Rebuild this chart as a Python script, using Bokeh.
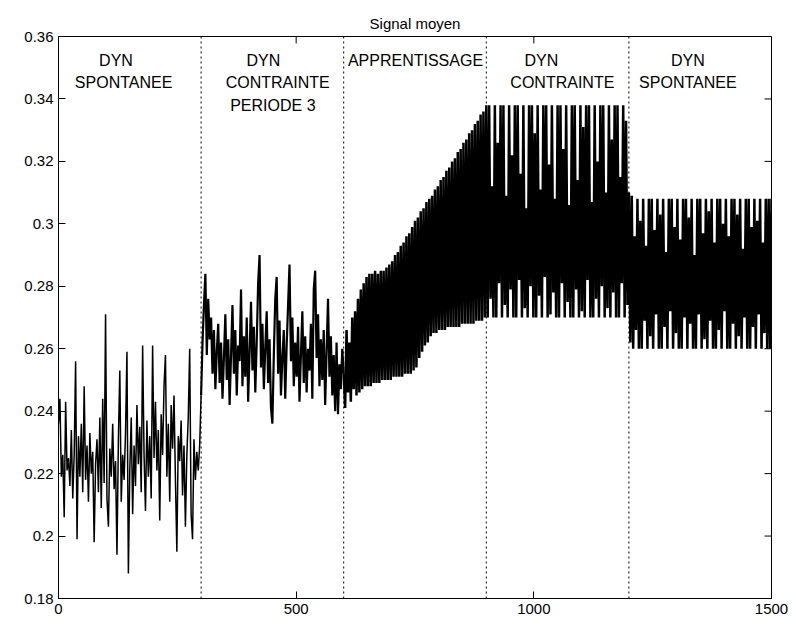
import numpy as np
from bokeh.plotting import figure
from bokeh.models import Range1d, LinearAxis, FixedTicker, Span, ColumnDataSource
from bokeh.core.properties import value
from bokeh.embed import file_html
from bokeh.resources import INLINE

# ---------------- data ----------------
x_step = 3  # sampling step of the typed series (iterations)

# 0 - 297 : spontaneous dynamics
seg1 = [
    0.236, 0.244, 0.219, 0.226, 0.206, 0.243, 0.221, 0.225, 0.216, 0.234,
    0.212, 0.226, 0.256, 0.199, 0.232, 0.219, 0.236, 0.214, 0.248, 0.218,
    0.229, 0.211, 0.233, 0.220, 0.227, 0.198, 0.223, 0.231, 0.214, 0.238,
    0.209, 0.244, 0.217, 0.271, 0.212, 0.203, 0.228, 0.219, 0.236, 0.215,
    0.224, 0.194, 0.231, 0.253, 0.211, 0.226, 0.218, 0.233, 0.259, 0.188,
    0.221, 0.238, 0.207, 0.229, 0.216, 0.242, 0.223, 0.235, 0.214, 0.261,
    0.226, 0.208, 0.237, 0.219, 0.232, 0.212, 0.261, 0.225, 0.243, 0.221,
    0.234, 0.205, 0.239, 0.226, 0.248, 0.258, 0.219, 0.236, 0.211, 0.242,
    0.228, 0.245, 0.218, 0.195, 0.232, 0.224, 0.237, 0.213, 0.229, 0.203,
    0.226, 0.238, 0.260, 0.207, 0.199, 0.231, 0.218, 0.227, 0.221, 0.229,
]
# 300 - 597 : constrained dynamics, period 3
seg2 = [
    0.245, 0.262, 0.274, 0.284, 0.258, 0.276, 0.263, 0.270, 0.252, 0.266,
    0.247, 0.259, 0.268, 0.249, 0.262, 0.244, 0.257, 0.271, 0.250, 0.263,
    0.242, 0.258, 0.274, 0.252, 0.266, 0.245, 0.261, 0.256, 0.279, 0.248,
    0.264, 0.251, 0.270, 0.243, 0.259, 0.275, 0.253, 0.267, 0.246, 0.262,
    0.281, 0.290, 0.254, 0.268, 0.247, 0.260, 0.272, 0.249, 0.263, 0.241,
    0.236, 0.258, 0.276, 0.283, 0.252, 0.269, 0.245, 0.257, 0.266, 0.244,
    0.261, 0.274, 0.287, 0.256, 0.270, 0.248, 0.262, 0.251, 0.267, 0.243,
    0.258, 0.272, 0.249, 0.264, 0.246, 0.260, 0.253, 0.268, 0.244, 0.279,
    0.285, 0.257, 0.271, 0.248, 0.263, 0.250, 0.266, 0.242, 0.259, 0.276,
    0.251, 0.264, 0.245, 0.258, 0.240, 0.262, 0.239, 0.255, 0.247, 0.260,
]
# 600 - 897 : learning
seg3 = [
    0.252, 0.241, 0.266, 0.246, 0.262, 0.243, 0.270, 0.247, 0.272, 0.245,
    0.276, 0.246, 0.279, 0.247, 0.281, 0.248, 0.283, 0.248, 0.284, 0.248,
    0.284, 0.249, 0.285, 0.249, 0.284, 0.249, 0.285, 0.250, 0.285, 0.250,
    0.286, 0.250, 0.287, 0.250, 0.288, 0.251, 0.290, 0.251, 0.291, 0.251,
    0.293, 0.251, 0.294, 0.252, 0.296, 0.252, 0.297, 0.252, 0.299, 0.253,
    0.301, 0.254, 0.302, 0.257, 0.304, 0.259, 0.305, 0.261, 0.307, 0.262,
    0.308, 0.264, 0.309, 0.265, 0.311, 0.265, 0.312, 0.266, 0.314, 0.266,
    0.315, 0.266, 0.317, 0.267, 0.318, 0.267, 0.320, 0.267, 0.321, 0.267,
    0.323, 0.267, 0.324, 0.268, 0.326, 0.268, 0.327, 0.268, 0.329, 0.268,
    0.330, 0.268, 0.332, 0.269, 0.333, 0.269, 0.335, 0.269, 0.336, 0.270,
]
# 900 - 1197 : constrained dynamics (peaks and troughs)
seg4_high = [
    0.338, 0.338, 0.312, 0.338, 0.326, 0.338, 0.338, 0.309, 0.338, 0.322,
    0.338, 0.338, 0.316, 0.338, 0.305, 0.338, 0.338, 0.329, 0.338, 0.311,
    0.338, 0.338, 0.319, 0.338, 0.308, 0.338, 0.338, 0.324, 0.338, 0.306,
    0.338, 0.338, 0.314, 0.338, 0.331, 0.338, 0.338, 0.307, 0.338, 0.320,
    0.338, 0.338, 0.310, 0.338, 0.327, 0.338, 0.338, 0.315, 0.338, 0.333,
]
seg4_low = [
    0.270, 0.276, 0.270, 0.270, 0.281, 0.270, 0.274, 0.270, 0.279, 0.270,
    0.270, 0.282, 0.270, 0.273, 0.270, 0.280, 0.270, 0.270, 0.277, 0.270,
    0.283, 0.270, 0.271, 0.278, 0.270, 0.270, 0.281, 0.270, 0.275, 0.270,
    0.270, 0.279, 0.270, 0.272, 0.270, 0.282, 0.270, 0.270, 0.276, 0.270,
    0.280, 0.270, 0.273, 0.270, 0.278, 0.270, 0.270, 0.281, 0.270, 0.274,
]
# 1200 - 1500 : spontaneous dynamics again (peaks and troughs)
seg5_high = [
    0.310, 0.309, 0.296, 0.308, 0.301, 0.308, 0.293, 0.308, 0.308, 0.298,
    0.308, 0.303, 0.308, 0.291, 0.308, 0.308, 0.299, 0.308, 0.295, 0.308,
    0.308, 0.302, 0.308, 0.290, 0.308, 0.308, 0.297, 0.308, 0.304, 0.308,
    0.294, 0.308, 0.308, 0.300, 0.308, 0.296, 0.308, 0.308, 0.303, 0.308,
    0.292, 0.308, 0.308, 0.299, 0.308, 0.301, 0.308, 0.294, 0.308, 0.308,
    0.308,
]
seg5_low = [
    0.262, 0.260, 0.266, 0.260, 0.260, 0.269, 0.260, 0.264, 0.260, 0.271,
    0.260, 0.260, 0.267, 0.260, 0.272, 0.260, 0.265, 0.260, 0.260, 0.270,
    0.260, 0.268, 0.260, 0.260, 0.271, 0.260, 0.263, 0.260, 0.269, 0.260,
    0.260, 0.266, 0.260, 0.272, 0.260, 0.260, 0.268, 0.260, 0.264, 0.260,
    0.270, 0.260, 0.260, 0.267, 0.260, 0.271, 0.260, 0.265, 0.260, 0.260,
]

phase_bounds = [300, 600, 900, 1200]
phase_texts = ["DYN", "SPONTANEE", "DYN", "CONTRAINTE", "PERIODE 3",
               "APPRENTISSAGE", "DYN", "CONTRAINTE", "DYN", "SPONTANEE"]

x_ticks = [0, 500, 1000, 1500]
y_ticks = [0.18, 0.2, 0.22, 0.24, 0.26, 0.28, 0.3, 0.32, 0.34, 0.36]
y_tick_labels = ["0.18", "0.2", "0.22", "0.24", "0.26", "0.28", "0.3", "0.32", "0.34", "0.36"]
title_text = "Signal moyen"

# ---------------- assemble series ----------------
seg4 = [v for pair in zip(seg4_high, seg4_low) for v in pair]
seg5 = [v for pair in zip(seg5_high, seg5_low) for v in pair] + seg5_high[len(seg5_low):]
signal = seg1 + seg2 + seg3 + seg4 + seg5
xs = np.arange(len(signal)) * x_step
n1 = len(seg1)
n2 = n1 + len(seg2)

# text placement (data units)
text_x = [121, 137, 431, 461, 451, 751, 1016, 1060, 1324, 1324]
text_y = [0.3523, 0.3454, 0.3523, 0.3454, 0.3379, 0.3523, 0.3523, 0.3454, 0.3523, 0.3454]

FONT = "Liberation Sans"
X0, X1, Y0, Y1 = 0, 1500, 0.18, 0.36
TICK_X = 14.7     # 7 px in x data units
TICK_Y = 0.00224  # 7 px in y data units

p = figure(width=788, height=632, output_backend="svg", toolbar_location=None,
           x_range=Range1d(X0, X1), y_range=Range1d(Y0, Y1),
           x_axis_type=None, y_axis_type=None,
           min_border_left=58, min_border_right=17, min_border_top=36, min_border_bottom=34)
p.background_fill_color = "white"
p.border_fill_color = "white"
p.outline_line_color = "black"
p.outline_line_width = 1
p.xgrid.visible = False
p.ygrid.visible = False

p.title.text = title_text
p.title.align = "center"
p.title.text_font = FONT
p.title.text_font_size = "15px"
p.title.text_font_style = "normal"
p.title.text_color = "black"
p.title.standoff = 9


def make_axis(ticks, overrides=None):
    ax = LinearAxis(ticker=FixedTicker(ticks=ticks))
    ax.axis_line_color = "black"
    ax.axis_line_width = 1
    ax.major_tick_line_color = "black"
    ax.major_tick_in = 7
    ax.major_tick_out = 0
    ax.minor_tick_line_color = None
    ax.major_label_text_font = FONT
    ax.major_label_text_font_size = "15px"
    ax.major_label_text_color = "black"
    ax.major_label_standoff = 5
    if overrides:
        ax.major_label_overrides = overrides
    return ax


p.add_layout(make_axis(x_ticks), "below")
p.add_layout(make_axis(y_ticks, dict(zip(y_ticks, y_tick_labels))), "left")

# inward ticks on the top and right sides of the box
p.segment(x0=x_ticks, y0=[Y1] * len(x_ticks), x1=x_ticks, y1=[Y1 - TICK_Y] * len(x_ticks),
          line_color="black", line_width=1)
p.segment(x0=[X1] * len(y_ticks), y0=y_ticks, x1=[X1 - TICK_X] * len(y_ticks), y1=y_ticks,
          line_color="black", line_width=1)

for b in phase_bounds:
    p.add_layout(Span(location=b, dimension="height", line_color="black",
                      line_width=1, line_dash="2 3"))

# the signal: the sparse noisy part thin, the dense oscillating parts heavier
p.line(xs[:n1 + 1], signal[:n1 + 1], line_color="black", line_width=1.5)
p.line(xs[n1:n2 + 1], signal[n1:n2 + 1], line_color="black", line_width=2.2)
p.line(xs[n2:], signal[n2:], line_color="black", line_width=2.5)

src = ColumnDataSource(dict(x=text_x, y=text_y, t=phase_texts))
p.text(x="x", y="y", text="t", source=src, text_font=value(FONT),
       text_font_size=value("16px"), text_align="center",
       text_baseline="alphabetic", text_color="black")

open("out.html", "w").write(file_html(p, INLINE))
